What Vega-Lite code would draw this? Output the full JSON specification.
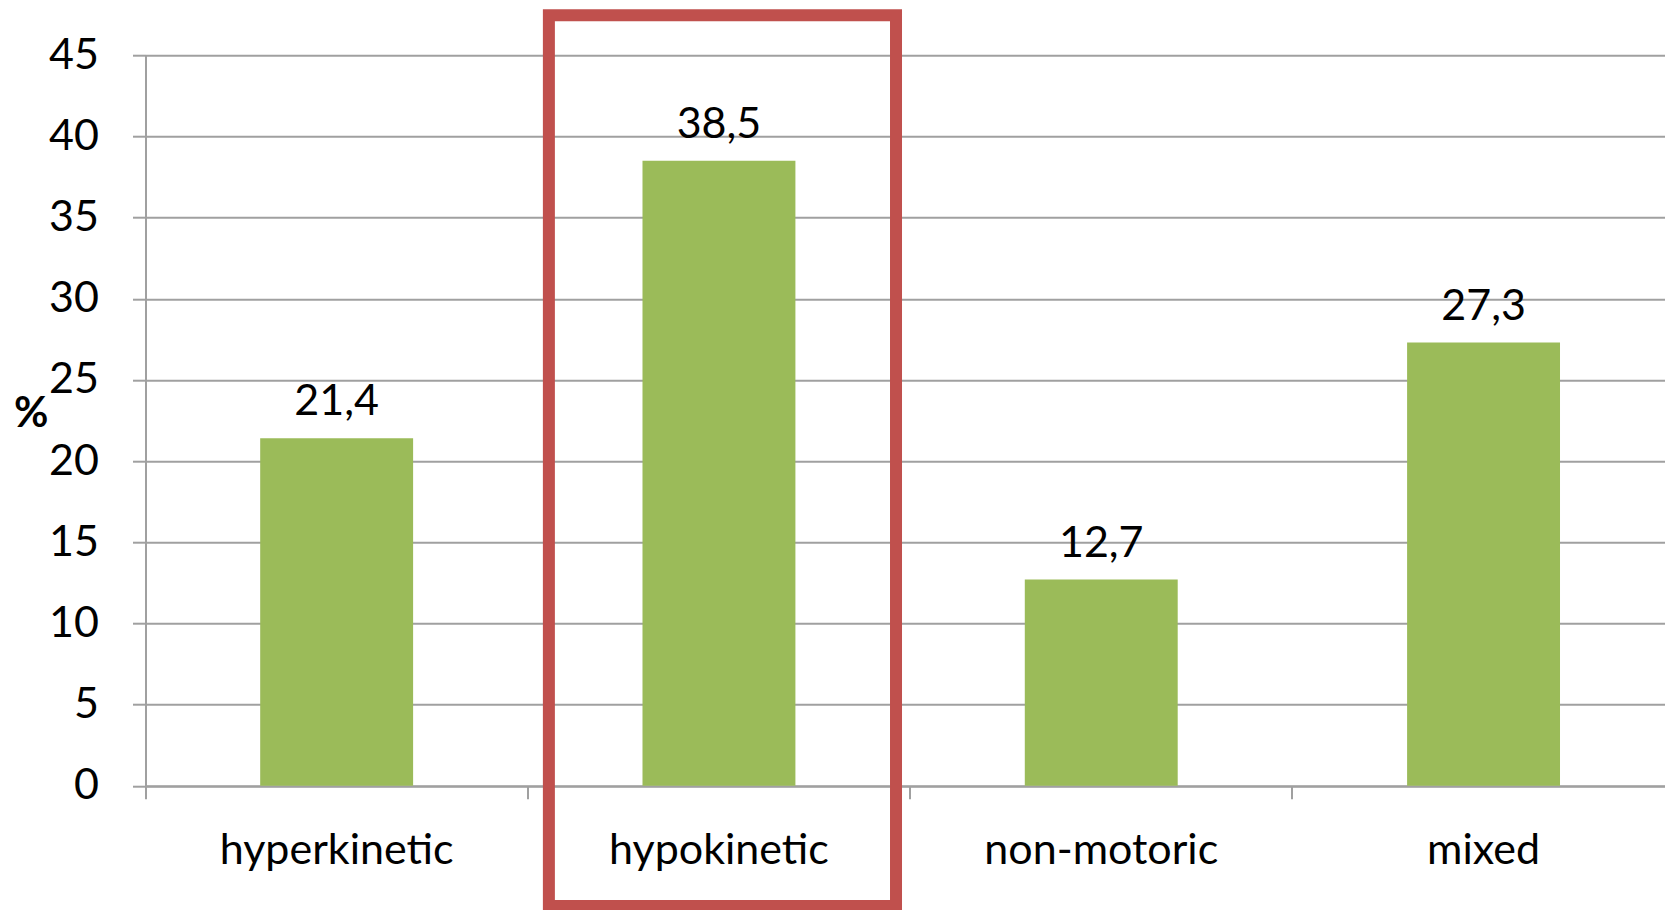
{
  "$schema": "https://vega.github.io/schema/vega-lite/v6.json",
  "autosize": "none",
  "width": 1519.5,
  "height": 730.6,
  "padding": {"left": 145.5, "top": 55.2, "right": 0, "bottom": 124.2},
  "background": "white",
  "config": {
    "view": {"stroke": null},
    "font": "Lato",
    "locale": {
      "number": {"decimal": ",", "thousands": ".", "grouping": [3], "currency": ["", " €"]}
    }
  },
  "data": {
    "values": [
      {"category": "hyperkinetic", "value": 21.4},
      {"category": "hypokinetic", "value": 38.5},
      {"category": "non-motoric", "value": 12.7},
      {"category": "mixed", "value": 27.3}
    ]
  },
  "encoding": {
    "x": {
      "field": "category",
      "type": "nominal",
      "sort": null,
      "scale": {"paddingInner": 0, "paddingOuter": 0, "range": [0, 1529.2]},
      "axis": {
        "title": null,
        "labelAngle": 0,
        "labelLimit": 0,
        "labelFont": "Lato",
        "labelFontSize": 43,
        "labelColor": "#000000",
        "labelPadding": 31,
        "tickSize": 13,
        "tickWidth": 2,
        "tickColor": "#A0A0A0",
        "bandPosition": 0,
        "domainColor": "#A0A0A0",
        "domainWidth": 2,
        "grid": false
      }
    }
  },
  "layer": [
    {
      "mark": {"type": "bar", "color": "#9BBB59", "width": {"band": 0.4}},
      "encoding": {
        "y": {
          "field": "value",
          "type": "quantitative",
          "scale": {"domain": [0, 45], "nice": false, "zero": true},
          "axis": {
            "values": [0, 5, 10, 15, 20, 25, 30, 35, 40, 45],
            "title": "%",
            "titleAngle": 0,
            "titleAlign": "right",
            "titleBaseline": "middle",
            "titleX": -97.5,
            "titleY": 357.8,
            "titleFont": "Lato",
            "titleFontSize": 42,
            "titleFontWeight": "bold",
            "titleColor": "#000000",
            "labelFont": "Lato",
            "labelFontSize": 43,
            "labelColor": "#000000",
            "labelPadding": 34,
            "tickSize": 13,
            "tickWidth": 2,
            "tickColor": "#A0A0A0",
            "domainColor": "#A0A0A0",
            "domainWidth": 2,
            "grid": true,
            "gridColor": "#A0A0A0",
            "gridWidth": 2
          }
        }
      }
    },
    {
      "mark": {
        "type": "text",
        "baseline": "alphabetic",
        "align": "center",
        "dy": -23,
        "font": "Lato",
        "fontSize": 43,
        "color": "#000000"
      },
      "encoding": {
        "y": {"field": "value", "type": "quantitative"},
        "text": {"field": "value", "type": "quantitative", "format": ".1f"}
      }
    },
    {
      "transform": [{"filter": {"field": "category", "equal": "hypokinetic"}}],
      "mark": {
        "type": "bar",
        "filled": false,
        "stroke": "#C0504D",
        "strokeWidth": 12,
        "width": {"band": 0.908},
        "xOffset": 3.5,
        "clip": false
      },
      "encoding": {
        "y": {"datum": 47.46, "type": "quantitative"},
        "y2": {"datum": -7.4}
      }
    }
  ]
}
